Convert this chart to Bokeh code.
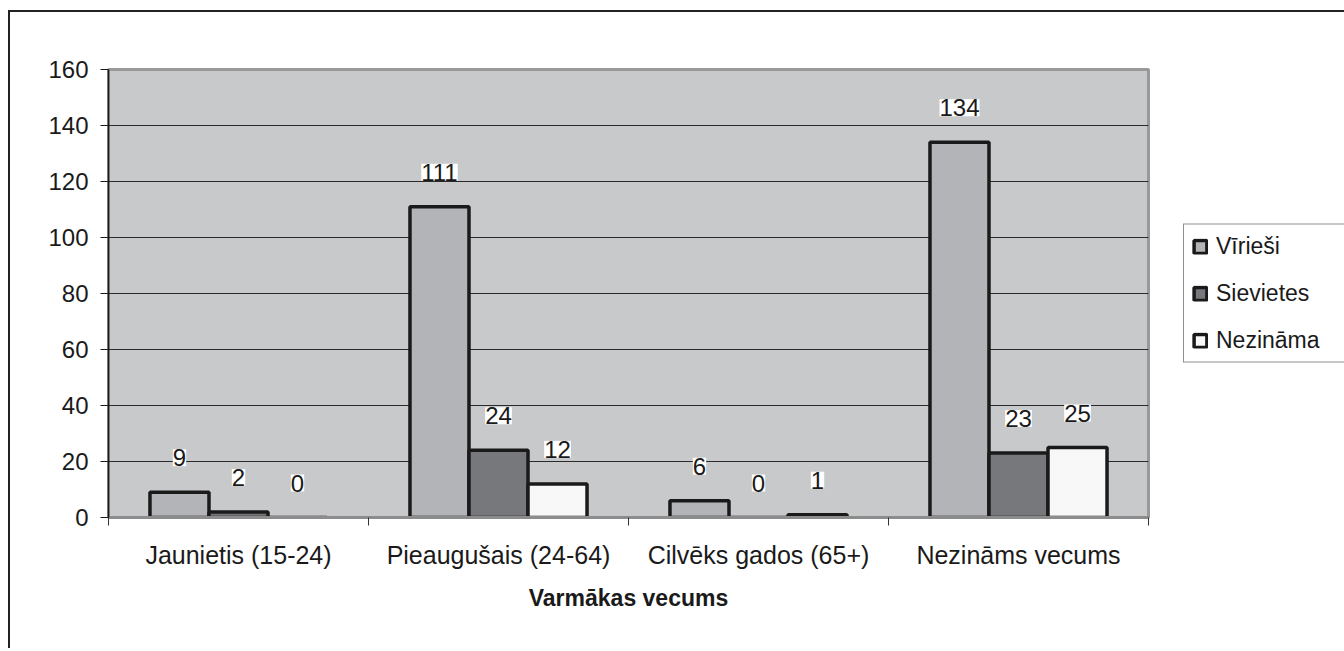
import numpy as np
from bokeh.plotting import figure
from bokeh.models import (ColumnDataSource, Range1d, FixedTicker, LabelSet,
                          Legend, LegendItem)
from bokeh.core.properties import value
from bokeh.embed import file_html
from bokeh.resources import INLINE

categories = ["Jaunietis (15-24)", "Pieaugušais (24-64)", "Cilvēks gados (65+)", "Nezināms vecums"]
series_names = ["Vīrieši", "Sievietes", "Nezināma"]
virieshi = [9, 111, 6, 134]
sievietes = [2, 24, 0, 23]
nezinama = [0, 12, 1, 25]
y_ticks = [0, 20, 40, 60, 80, 100, 120, 140, 160]
x_title = "Varmākas vecums"

series_values = [virieshi, sievietes, nezinama]
colors = ["#b3b4b7", "#77787c", "#f8f8f8"]
FONT = "Liberation Sans"

p = figure(frame_width=1040, frame_height=448, output_backend="svg", toolbar_location=None,
           x_range=Range1d(0, len(categories)), y_range=Range1d(0, 160),
           min_border_left=98, min_border_top=57, min_border_bottom=131,
           min_border_right=194)
p.styles = {"border-left": "2px solid #222", "border-top": "2px solid #222",
            "margin-top": "10px", "margin-left": "8px"}

p.background_fill_color = "#c8c9cb"
p.border_fill_color = "white"
p.outline_line_color = "#999999"
p.outline_line_width = 3

centers = np.arange(len(categories)) + 0.5
w = 0.227
offsets = [-w, 0.0, w]

items = []
for name, vals, col, off in zip(series_names, series_values, colors, offsets):
    src = ColumnDataSource(dict(x=centers + off, top=vals, lbl=[str(v) for v in vals]))
    r = p.vbar(x="x", top="top", width=w, source=src, fill_color=col,
               line_color="#1a1a1a", line_width=3.5)
    items.append(LegendItem(label=name, renderers=[r]))
    ls = LabelSet(x="x", y="top", text="lbl", source=src, y_offset=26,
                  text_align="center", text_baseline="bottom",
                  text_font=value(FONT), text_font_size=value("24px"),
                  text_color="#1a1a1a",
                  background_fill_color="white")
    p.add_layout(ls)

# axes
p.xaxis.ticker = FixedTicker(ticks=list(centers), minor_ticks=list(range(len(categories) + 1)))
p.xaxis.major_label_overrides = {float(c): cat for c, cat in zip(centers, categories)}
p.xaxis.major_tick_out = 0
p.xaxis.major_tick_in = 0
p.xaxis.minor_tick_out = 8
p.xaxis.minor_tick_in = 0
p.xaxis.minor_tick_line_color = "#333333"
p.xaxis.axis_line_color = "#8c8c8c"
p.xaxis.axis_line_width = 3
p.xaxis.major_label_standoff = 15
p.xaxis.major_label_text_font = FONT
p.xaxis.major_label_text_font_size = "25px"
p.xaxis.major_label_text_color = "#1a1a1a"
p.xaxis.axis_label = x_title
p.xaxis.axis_label_text_font = FONT
p.xaxis.axis_label_text_font_style = "bold"
p.xaxis.axis_label_text_font_size = "23px"
p.xaxis.axis_label_text_color = "#1a1a1a"
p.xaxis.axis_label_standoff = 13

p.yaxis.ticker = FixedTicker(ticks=y_ticks)
p.yaxis.major_tick_out = 8
p.yaxis.major_tick_in = 0
p.yaxis.minor_tick_out = 0
p.yaxis.minor_tick_in = 0
p.yaxis.major_tick_line_color = "#1a1a1a"
p.yaxis.axis_line_color = "#1a1a1a"
p.yaxis.axis_line_width = 1.5
p.yaxis.major_label_standoff = 12
p.yaxis.major_label_text_font = FONT
p.yaxis.major_label_text_font_size = "24px"
p.yaxis.major_label_text_color = "#1a1a1a"

p.xgrid.grid_line_color = None
p.ygrid.grid_line_color = "#2a2a2a"
p.ygrid.grid_line_width = 1

legend = Legend(items=items, location="center_left", orientation="vertical",
                border_line_color="#222222", border_line_width=1,
                background_fill_color="white", background_fill_alpha=1,
                label_text_font=FONT, label_text_font_size="23px",
                label_text_color="#1a1a1a", glyph_width=16, glyph_height=16,
                label_height=24, label_width=120, label_standoff=8,
                spacing=20, padding=8, margin=35)
p.add_layout(legend, "right")

open("out.html", "w").write(file_html(p, INLINE))
